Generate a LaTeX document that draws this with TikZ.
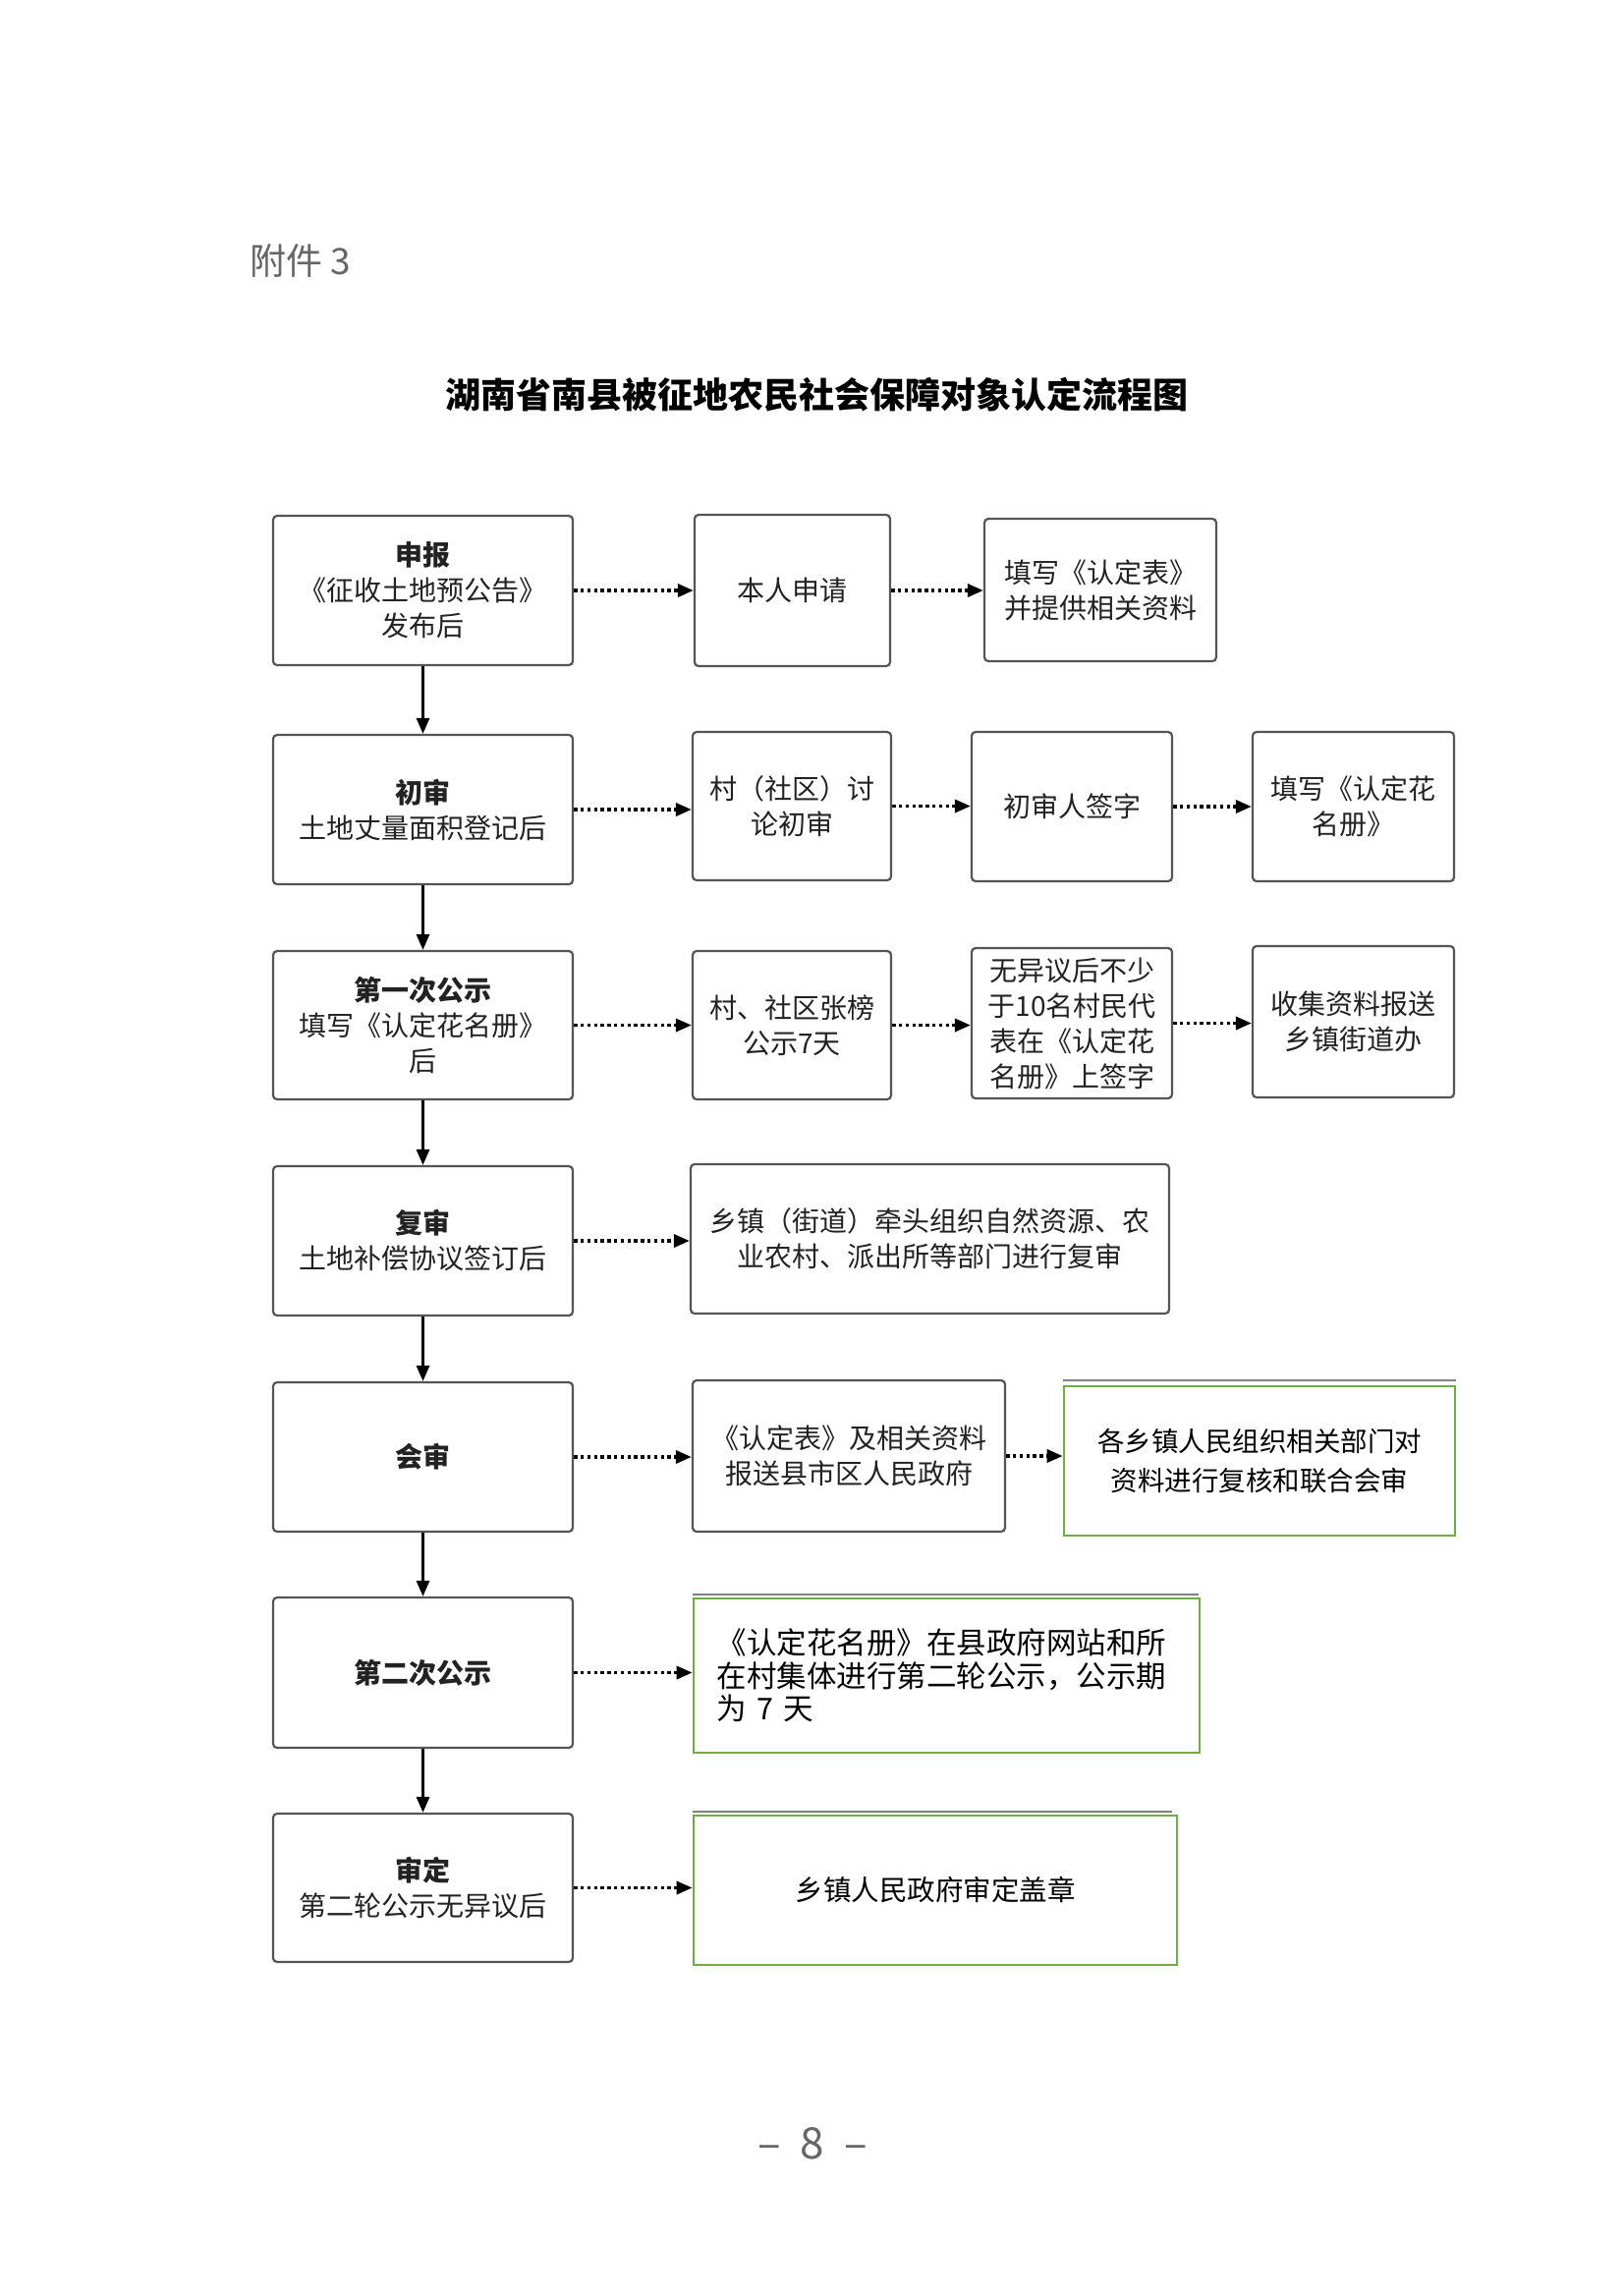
\documentclass[tikz,border=0pt]{standalone}
\usepackage{fontspec}
\setmainfont{Noto Sans CJK SC}
\usetikzlibrary{arrows.meta}
\definecolor{boxgray}{HTML}{555555}
\definecolor{boxgreen}{HTML}{70AD47}
\definecolor{txt}{HTML}{222222}
\definecolor{headgray}{HTML}{666666}
\begin{document}
\begin{tikzpicture}[x=1pt,y=-1pt,
  box/.style={draw=boxgray, line width=2.2pt, rounded corners=4pt, inner sep=0pt, align=center, text=txt, font=\fontsize{28}{36}\selectfont},
  gbox/.style={draw=boxgreen, line width=2.6pt, inner sep=0pt, text=black},
  flow/.style={line width=3pt, -{Triangle[length=16pt,width=13pt]}},
  dotflow/.style={line width=3.4pt, dash pattern=on 3.4pt off 3.4pt, -{Triangle[length=16pt,width=13pt]}},
  shadowline/.style={draw=gray, line width=2pt},
]
\useasboundingbox (0,0) rectangle (1652,2337);
\fill[white] (0,0) rectangle (1652,2337);

% header, title, page number
\node[anchor=west, text=headgray, font=\fontsize{37}{40}\selectfont, inner sep=0pt] (att) at (254,265) {附件 3};
\node[font=\fontsize{36}{40}\selectfont\bfseries, inner sep=0pt] (title) at (831,402) {湖南省南县被征地农民社会保障对象认定流程图};
\node[text=headgray, font=\fontsize{44}{48}\selectfont, inner sep=0pt] (pagenum) at (827,2182) {–\hspace{20pt}8\hspace{20pt}–};

% row 1
\node[box, minimum width=305pt, minimum height=152pt] (r1a) at (430.5,601) {{\bfseries 申报}\\《征收土地预公告》\\发布后};
\node[box, minimum width=199pt, minimum height=154pt] (r1b) at (806.5,601) {本人申请};
\node[box, minimum width=236pt, minimum height=145pt] (r1c) at (1120,600.5) {填写《认定表》\\并提供相关资料};

% row 2
\node[box, minimum width=305pt, minimum height=152pt] (r2a) at (430.5,824) {{\bfseries 初审}\\土地丈量面积登记后};
\node[box, minimum width=202pt, minimum height=151pt] (r2b) at (806,820.5) {村（社区）讨\\论初审};
\node[box, minimum width=204pt, minimum height=152pt] (r2c) at (1091,821) {初审人签字};
\node[box, minimum width=205pt, minimum height=152pt] (r2d) at (1377.5,821) {填写《认定花\\名册》};

% row 3
\node[box, minimum width=305pt, minimum height=151pt] (r3a) at (430.5,1043.5) {{\bfseries 第一次公示}\\填写《认定花名册》\\后};
\node[box, minimum width=202pt, minimum height=151pt] (r3b) at (806,1043.5) {村、社区张榜\\公示7天};
\node[box, minimum width=204pt, minimum height=153pt] (r3c) at (1091,1041.5) {无异议后不少\\于10名村民代\\表在《认定花\\名册》上签字};
\node[box, minimum width=205pt, minimum height=154pt] (r3d) at (1377.5,1040) {收集资料报送\\乡镇街道办};

% row 4
\node[box, minimum width=305pt, minimum height=152pt] (r4a) at (430.5,1263) {{\bfseries 复审}\\土地补偿协议签订后};
\node[box, minimum width=487pt, minimum height=152pt] (r4b) at (946.5,1261) {乡镇（街道）牵头组织自然资源、农\\业农村、派出所等部门进行复审};

% row 5
\node[box, minimum width=305pt, minimum height=152pt] (r5a) at (430.5,1483) {{\bfseries 会审}};
\node[box, minimum width=318pt, minimum height=154pt] (r5b) at (864,1482) {《认定表》及相关资料\\报送县市区人民政府};
\node[gbox, minimum width=398pt, minimum height=152pt, align=center, font=\fontsize{27.5}{40}\selectfont] (r5c) at (1282,1487) {各乡镇人民组织相关部门对\\资料进行复核和联合会审};

% row 6
\node[box, minimum width=305pt, minimum height=153pt] (r6a) at (430.5,1702.5) {{\bfseries 第二次公示}};
\node[gbox, minimum width=515pt, minimum height=157pt, text width=468pt, align=left, font=\fontsize{30.5}{33.5}\selectfont] (r6b) at (963.5,1705.5) {《认定花名册》在县政府网站和所\\在村集体进行第二轮公示，公示期\\为 7 天};

% row 7
\node[box, minimum width=305pt, minimum height=151pt] (r7a) at (430.5,1921.5) {{\bfseries 审定}\\第二轮公示无异议后};
\node[gbox, minimum width=492pt, minimum height=152pt, font=\fontsize{28.5}{36}\selectfont] (r7b) at (952,1924) {乡镇人民政府审定盖章};

% grey lines above green boxes
\draw[shadowline] ([yshift=5pt]r5c.north west) -- ([yshift=5pt]r5c.north east);
\draw[shadowline] ([yshift=3pt]r6b.north west) -- ([yshift=3pt,xshift=-2pt]r6b.north east);
\draw[shadowline] ([yshift=3pt]r7b.north west) -- ([yshift=3pt,xshift=-6pt]r7b.north east);

% vertical flow
\draw[flow] (r1a.south) -- (r2a.north);
\draw[flow] (r2a.south) -- (r3a.north);
\draw[flow] (r3a.south) -- (r4a.north);
\draw[flow] (r4a.south) -- (r5a.north);
\draw[flow] (r5a.south) -- (r6a.north);
\draw[flow] (r6a.south) -- (r7a.north);

% dotted horizontal arrows
\draw[dotflow] (r1a.east) -- (r1a.east -| r1b.west);
\draw[dotflow] (r1b.east) -- (r1b.east -| r1c.west);
\draw[dotflow] (r2a.east) -- (r2a.east -| r2b.west);
\draw[dotflow] (r2b.east) -- (r2b.east -| r2c.west);
\draw[dotflow] (r2c.east) -- (r2c.east -| r2d.west);
\draw[dotflow] (r3a.east) -- (r3a.east -| r3b.west);
\draw[dotflow] (r3b.east) -- (r3b.east -| r3c.west);
\draw[dotflow] (r3c.east) -- (r3c.east -| r3d.west);
\draw[dotflow] (r4a.east) -- (r4a.east -| r4b.west);
\draw[dotflow] (r5a.east) -- (r5a.east -| r5b.west);
\draw[dotflow] (r5b.east) -- (r5b.east -| r5c.west);
\draw[dotflow] (r6a.east) -- (r6a.east -| r6b.west);
\draw[dotflow] (r7a.east) -- (r7a.east -| r7b.west);
\end{tikzpicture}
\end{document}
